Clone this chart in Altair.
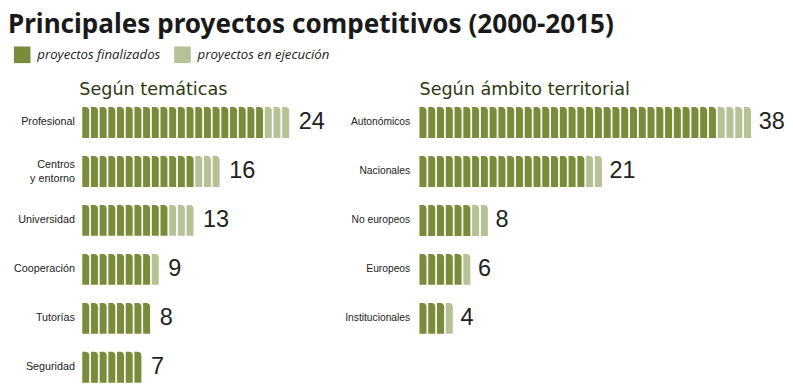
import altair as alt
import pandas as pd

# ---- data ----
status = ["proyectos finalizados", "proyectos en ejecución"]
colors = ["#7a8b3a", "#b7c196"]

tem_cats = ["Profesional", "Centros\ny entorno", "Universidad", "Cooperación", "Tutorías", "Seguridad"]
tem_fin = [21, 13, 10, 8, 8, 7]
tem_eje = [3, 3, 3, 1, 0, 0]

amb_cats = ["Autonómicos", "Nacionales", "No europeos", "Europeos", "Institucionales"]
amb_fin = [34, 19, 6, 5, 3]
amb_eje = [4, 2, 2, 1, 1]

STEP = 50     # px per row
PAD_IN = 0.37


def units_df(cats, fin, eje):
    rows = []
    for c, f, e in zip(cats, fin, eje):
        for i in range(f + e):
            rows.append({"cat": c, "x0": i, "x1": i + 0.8,
                         "status": status[0] if i < f else status[1]})
    return pd.DataFrame(rows)


def panel(cats, fin, eje, title, xmax, unit, extent, lab_pad, lab_size, legend, tdx, ndx):
    units = units_df(cats, fin, eje)
    totals = pd.DataFrame({"cat": cats, "total": [f + e for f, e in zip(fin, eje)]})
    yscale = alt.Scale(paddingInner=PAD_IN, paddingOuter=0)
    y = alt.Y("cat:N", sort=cats, title=None, scale=yscale,
              axis=alt.Axis(ticks=False, domain=False, labelPadding=lab_pad,
                            labelFont="Liberation Sans", labelFontSize=lab_size,
                            labelColor="#222222", labelLimit=300,
                            labelExpr="split(datum.label, '\\n')",
                            labelOffset=alt.ExprRef(expr="indexof(datum.label, '\\n') >= 0 ? -7 : 0"),
                            labelLineHeight=15,
                            minExtent=extent, maxExtent=extent))
    xs = alt.Scale(domain=[0, xmax], nice=False, zero=True)
    color = alt.Color("status:N", scale=alt.Scale(domain=status, range=colors),
                      legend=legend)
    rects = alt.Chart(units).mark_rect(cornerRadiusTopRight=4).encode(
        x=alt.X("x0:Q", scale=xs, axis=None),
        x2="x1:Q",
        y=y,
        color=color,
    )
    text = alt.Chart(totals).mark_text(
        align="left", baseline="middle", dx=ndx, fontSize=24,
        font="Liberation Sans", color="#222222"
    ).encode(
        x=alt.X("total:Q", scale=xs, axis=None),
        y=alt.Y("cat:N", sort=cats, scale=yscale),
        text="total:Q",
    )
    h = round(STEP * (len(cats) - PAD_IN))
    return alt.layer(rects, text).properties(
        width=round(xmax * unit), height=h,
        title=alt.TitleParams(title, anchor="start", fontSize=18, font="DejaVu Sans",
                              fontWeight="normal", color="#2b3a12", offset=8, dx=tdx),
    )


legend = alt.Legend(
    title=None, orient="none", legendX=-70, legendY=-62, direction="horizontal",
    symbolType="square", symbolSize=289, symbolStrokeWidth=0,
    labelFont="Open Sans", labelFontStyle="italic", labelFontSize=13.5,
    labelColor="#222222", labelOffset=7, columnPadding=14, padding=0,
)

left = panel(tem_cats, tem_fin, tem_eje, "Según temáticas", 28, 8.9, 73, 8, 11, legend, 70, 8)
right = panel(amb_cats, amb_fin, amb_eje, "Según ámbito territorial", 40, 8.98, 85, 10, 10.5, None, 85, 6)

chart = alt.hconcat(left, right, spacing=11).resolve_scale(color="shared").properties(
    title=alt.TitleParams("Principales proyectos competitivos (2000-2015)",
                          anchor="start", frame="bounds", fontSize=26.7,
                          font="Noto Sans", fontWeight="bold", color="#1a1a1a",
                          offset=8, dx=-3),
    padding=0,
).configure_view(stroke=None)

chart.save("out.html", embed_options={"renderer": "svg", "actions": False})
